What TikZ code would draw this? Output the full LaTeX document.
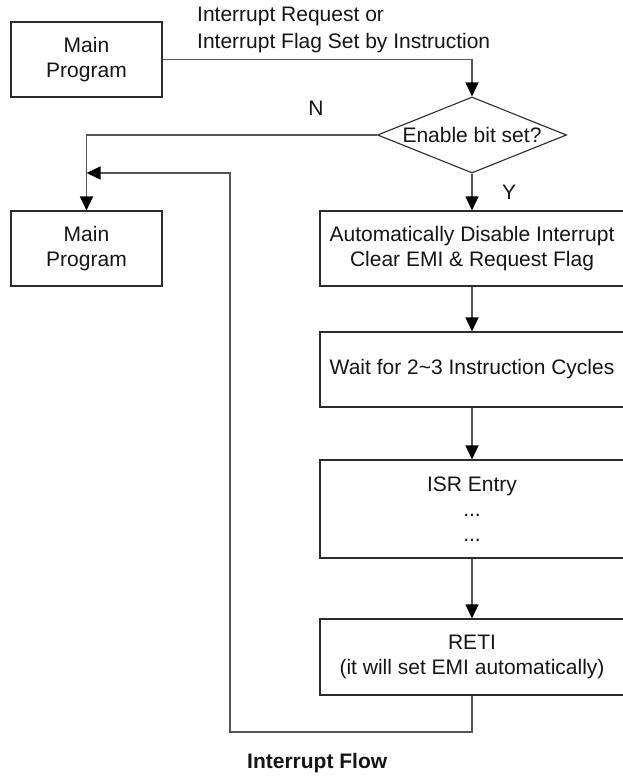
\documentclass[tikz,border=0pt]{standalone}
\usepackage{fontspec}
\setmainfont{Liberation Sans}
\usetikzlibrary{arrows.meta,shapes.geometric}
\definecolor{boxc}{HTML}{2B2B2B}
\definecolor{linec}{HTML}{555555}
\definecolor{txtc}{HTML}{151515}
\begin{document}
\begin{tikzpicture}[x=1pt,y=-1pt,
  every node/.style={text=txtc},
  font=\fontsize{21}{25}\selectfont,
  mbox/.style={draw=boxc, line width=1.1pt, minimum width=151pt, minimum height=75pt, align=center, inner sep=0pt},
  rbox/.style={draw=boxc, line width=1.1pt, minimum width=304pt, align=center, inner sep=0pt},
  conn/.style={draw=linec, line width=1.1pt},
  arr/.style={conn, -{Triangle[length=14pt,width=13pt,color=black]}},
  lbl/.style={inner sep=0pt}
]
\useasboundingbox (0,0) rectangle (622,776);

\node[mbox] (mp1) at (86.5,59.5) {Main\\Program};
\node[diamond, draw=boxc, line width=1.1pt, minimum width=189pt, minimum height=76pt, inner sep=0pt,
      label={[lbl]center:Enable bit set?}] (cond) at (472,135) {};
\node[mbox] (mp2) at (86.5,248.5) {Main\\Program};
\node[rbox, minimum height=75pt] (dis) at (472,248.5) {Automatically Disable Interrupt\\Clear EMI \& Request Flag};
\node[rbox, minimum height=75pt] (wait) at (472,369.5) {Wait for 2\textasciitilde3 Instruction Cycles};
\node[rbox, minimum height=98pt] (isr) at (472,509) {ISR Entry\\...\\...};
\node[rbox, minimum height=76pt] (reti) at (472,657) {RETI\\(it will set EMI automatically)};

\node[lbl, anchor=west, align=left, font=\fontsize{21}{27}\selectfont] (req) at (197,29.5) {Interrupt Request or\\Interrupt Flag Set by Instruction};
\node[lbl] (nlab) at (316,108) {N};
\node[lbl] (ylab) at (509,192) {Y};
\node[lbl, anchor=west, font=\fontsize{21}{25}\selectfont\bfseries] (title) at (247,763) {Interrupt Flow};

\coordinate (r1) at (472,732);
\coordinate (r2) at (230,732);
\coordinate (r3) at (230,173);
\coordinate (r4) at (86.5,173);

\draw[arr] (mp1.east) -| (cond.north);
\draw[arr] (cond.west) -| (mp2.north);
\draw[arr] (cond.south) -- (dis.north);
\draw[arr] (dis.south) -- (wait.north);
\draw[arr] (wait.south) -- (isr.north);
\draw[arr] (isr.south) -- (reti.north);
\draw[arr] (reti.south) -- (r1) -- (r2) -- (r3) -- (r4);
\end{tikzpicture}
\end{document}
